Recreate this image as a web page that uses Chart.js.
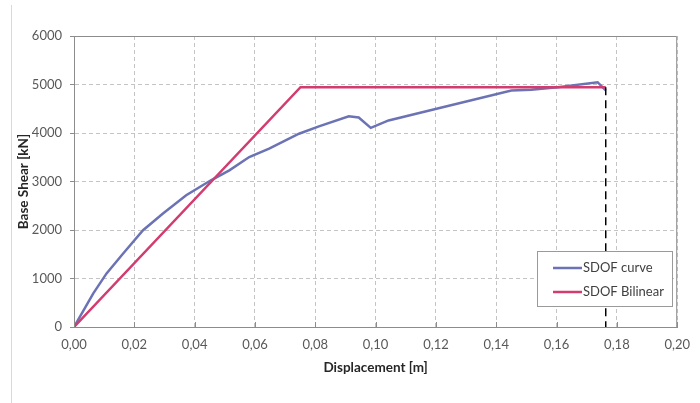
<!DOCTYPE html>
<html>
<head>
<meta charset="utf-8">
<script src="https://cdn.jsdelivr.net/npm/chart.js@4/dist/chart.umd.min.js"></script>
<style>
  html, body { margin: 0; padding: 0; background: #fff; }
  #wrap { width: 700px; height: 403px; }
</style>
</head>
<body>
<div id="wrap"><canvas id="myChart" width="700" height="403"></canvas></div>
<script>
// SDOF capacity curve
const curveX = [0, 0.0064, 0.0108, 0.0163, 0.0229, 0.0295, 0.0372, 0.0454, 0.0515, 0.0581, 0.0647, 0.0746,
  0.0812, 0.0911, 0.0944, 0.0984, 0.1043, 0.1202, 0.1450, 0.1516, 0.1604, 0.1736, 0.1763];
const curveY = [0, 693, 1105, 1516, 1996, 2339, 2716, 3025, 3230, 3504, 3677, 3985,
  4136, 4345, 4320, 4105, 4259, 4500, 4877, 4891, 4944, 5047, 4877];

// bilinear idealisation
const bilinX = [0, 0.0751, 0.1763];
const bilinY = [0, 4944, 4944];

// ultimate displacement marker (dashed)
const ultX = [0.1763, 0.1763];
const ultY = [4944, 0];

const xTicks = [0, 0.02, 0.04, 0.06, 0.08, 0.10, 0.12, 0.14, 0.16, 0.18, 0.20];
const yTicks = [0, 1000, 2000, 3000, 4000, 5000, 6000];

const seriesNames = ['SDOF curve', 'SDOF Bilinear'];
const COLORS = { curve: '#6b73b5', bilin: '#d23c6e' };

function toPoints(xs, ys) {
  let pts = [];
  for (let i = 0; i < xs.length; i++) pts.push({ x: xs[i], y: ys[i] });
  return pts;
}

const FONT = 'Lato, "Open Sans", sans-serif';

// plot frame, inner x tick marks, faint outer line and the boxed legend
const excelBits = {
  id: 'excelBits',
  beforeDraw(chart) {
    const ctx = chart.ctx;
    ctx.save();
    ctx.strokeStyle = '#d9d9d9';
    ctx.lineWidth = 1;
    ctx.beginPath();
    ctx.moveTo(11.5, 5);
    ctx.lineTo(11.5, 403);
    ctx.stroke();
    ctx.restore();
  },
  afterDatasetsDraw(chart) {
    const ctx = chart.ctx;
    const a = chart.chartArea;
    const xs = chart.scales.x;
    ctx.save();
    ctx.strokeStyle = '#8c8c8c';
    ctx.lineWidth = 1;
    ctx.beginPath();
    ctx.moveTo(a.left, a.top + 0.5);
    ctx.lineTo(a.right - 0.5, a.top + 0.5);
    ctx.lineTo(a.right - 0.5, a.bottom);
    ctx.stroke();
    ctx.beginPath();
    xTicks.forEach(v => {
      const px = Math.round(xs.getPixelForValue(v)) + 0.5;
      ctx.moveTo(px, a.bottom);
      ctx.lineTo(px, a.bottom - 5);
    });
    ctx.stroke();

    // legend box
    const bx = 537, by = 251, bw = 136, bh = 56;
    ctx.fillStyle = '#fff';
    ctx.fillRect(bx, by, bw, bh);
    ctx.strokeStyle = '#9a9a9a';
    ctx.strokeRect(bx + 0.5, by + 0.5, bw - 1, bh - 1);
    const cols = [COLORS.curve, COLORS.bilin];
    ctx.font = '13px ' + FONT;
    ctx.textBaseline = 'middle';
    for (let i = 0; i < seriesNames.length; i++) {
      const ly = by + 17 + i * 24;
      ctx.strokeStyle = cols[i];
      ctx.lineWidth = 2.5;
      ctx.beginPath();
      ctx.moveTo(bx + 16, ly);
      ctx.lineTo(bx + 45, ly);
      ctx.stroke();
      ctx.fillStyle = '#404040';
      ctx.fillText(seriesNames[i], bx + 46, ly);
    }
    ctx.restore();
  }
};

const data = {
  datasets: [
    {
      label: 'ultimate',
      data: toPoints(ultX, ultY),
      borderColor: '#000',
      borderWidth: 1.5,
      borderDash: [8, 5],
      pointRadius: 0,
      showLine: true,
      order: 0
    },
    {
      label: seriesNames[1],
      data: toPoints(bilinX, bilinY),
      borderColor: COLORS.bilin,
      borderWidth: 2.5,
      pointRadius: 0,
      showLine: true,
      order: 1
    },
    {
      label: seriesNames[0],
      data: toPoints(curveX, curveY),
      borderColor: COLORS.curve,
      borderWidth: 2.5,
      pointRadius: 0,
      showLine: true,
      order: 2
    }
  ]
};

const config = {
  type: 'scatter',
  data: data,
  options: {
    responsive: false,
    animation: false,
    layout: { padding: { left: 10, right: 19, top: 36, bottom: 0 } },
    plugins: {
      legend: { display: false },
      tooltip: { enabled: false }
    },
    scales: {
      x: {
        type: 'linear',
        min: 0,
        max: 0.2,
        afterBuildTicks: s => { s.ticks = xTicks.map(v => ({ value: v })); },
        afterFit: s => { s.height = 76; },
        ticks: {
          padding: 10,
          color: '#595959',
          font: { family: FONT, size: 13 },
          callback: v => v.toFixed(2).replace('.', ',')
        },
        grid: {
          color: '#c4c4c4',
          borderDash: [4, 3],
          tickLength: 0
        },
        border: { color: '#8c8c8c', dash: [4, 3] },
        title: {
          display: true,
          text: 'Displacement [m]',
          color: '#262626',
          font: { family: FONT, size: 13.5, weight: 'bold' },
          padding: { top: 0, bottom: 27 }
        }
      },
      y: {
        min: 0,
        max: 6000,
        afterBuildTicks: s => { s.ticks = yTicks.map(v => ({ value: v })); },
        afterFit: s => { s.width = 64; },
        ticks: {
          padding: 8,
          color: '#595959',
          font: { family: FONT, size: 13 },
          callback: v => String(v)
        },
        grid: {
          color: '#c4c4c4',
          tickColor: '#8c8c8c',
          tickLength: 4,
          tickBorderDash: []
        },
        border: { color: '#8c8c8c', dash: [4, 3] },
        title: {
          display: true,
          text: 'Base Shear [kN]',
          color: '#262626',
          font: { family: FONT, size: 13.5, weight: 'bold' },
          padding: { top: 6, bottom: 0 }
        }
      }
    }
  },
  plugins: [excelBits]
};

const myChart = new Chart(document.getElementById('myChart'), config);
</script>
</body>
</html>
